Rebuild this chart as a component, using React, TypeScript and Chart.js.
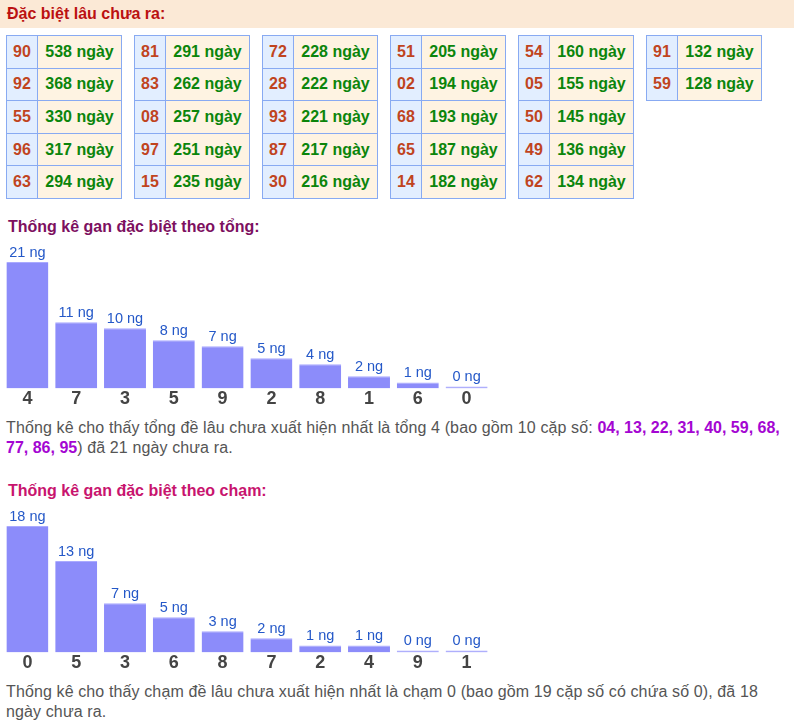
import React, { useEffect, useRef } from "react";
import { Chart, registerables } from "chart.js";

Chart.register(...registerables);

// Table data: five columns of 5 (and one column of 2)
const tablePairs: string[][] = [
  ["90", "92", "55", "96", "63"],
  ["81", "83", "08", "97", "15"],
  ["72", "28", "93", "87", "30"],
  ["51", "02", "68", "65", "14"],
  ["54", "05", "50", "49", "62"],
  ["91", "59"],
];
const tableDays: number[][] = [
  [538, 368, 330, 317, 294],
  [291, 262, 257, 251, 235],
  [228, 222, 221, 217, 216],
  [205, 194, 193, 187, 182],
  [160, 155, 145, 136, 134],
  [132, 128],
];

const tongLabels = ["4", "7", "3", "5", "9", "2", "8", "1", "6", "0"];
const tongValues = [21, 11, 10, 8, 7, 5, 4, 2, 1, 0];

const chamLabels = ["0", "5", "3", "6", "8", "7", "2", "4", "9", "1"];
const chamValues = [18, 13, 7, 5, 3, 2, 1, 1, 0, 0];

const tongPairs = ["04", "13", "22", "31", "40", "59", "68", "77", "86", "95"];

const FONT = "Arial, 'Liberation Sans', sans-serif";

const valueLabelPlugin = {
  id: "valueLabels",
  afterDatasetsDraw(chart: any) {
    const ctx = chart.ctx;
    const meta = chart.getDatasetMeta(0);
    const data = chart.data.datasets[0].data;
    ctx.save();
    ctx.font = `14.5px ${FONT}`;
    ctx.fillStyle = "#2458c8";
    ctx.textAlign = "center";
    ctx.textBaseline = "bottom";
    meta.data.forEach((bar: any, i: number) => {
      ctx.fillText(`${data[i]} ng`, bar.x, bar.y - 2);
    });
    ctx.restore();
  },
};

function BarChart({ labels, values, top }: { labels: string[]; values: number[]; top: number }) {
  const ref = useRef<HTMLCanvasElement | null>(null);
  useEffect(() => {
    if (!ref.current) return;
    const chart = new Chart(ref.current, {
      type: "bar",
      data: {
        labels,
        datasets: [
          {
            data: values,
            backgroundColor: "#8c8cfa",
            borderColor: "#aaaaff",
            borderWidth: { top: 1, left: 0, right: 0, bottom: 0 },
            borderSkipped: false,
            minBarLength: 2,
            categoryPercentage: 0.86,
            barPercentage: 1,
          },
        ],
      },
      options: {
        animation: false,
        responsive: false,
        maintainAspectRatio: false,
        layout: { padding: { top: 26, left: 0, right: 0, bottom: 0 } },
        plugins: { legend: { display: false }, tooltip: { enabled: false } },
        scales: {
          x: {
            grid: { display: false, drawTicks: false },
            border: { display: false },
            ticks: {
              padding: 0,
              color: "#444",
              font: { family: FONT, size: 18, weight: "bold" },
            },
          },
          y: {
            display: false,
            min: 0,
            max: Math.max(...values),
          },
        },
      },
      plugins: [valueLabelPlugin],
    });
    return () => chart.destroy();
  }, []);
  return (
    <canvas
      ref={ref}
      width={488}
      height={174}
      style={{ position: "absolute", left: 3, top, width: 488, height: 174 }}
    />
  );
}

export default function App() {
  useEffect(() => {
    document.body.style.margin = "0";
  }, []);

  const tables = tablePairs.map((pairs, t) => (
    <table
      key={t}
      style={{
        position: "absolute",
        left: 6 + 128 * t,
        top: 35,
        borderCollapse: "collapse",
        fontFamily: FONT,
        fontSize: 16,
        fontWeight: "bold",
      }}
    >
      <tbody>
        {pairs.map((p, r) => (
          <tr key={r} style={{ height: 32.6 }}>
            <td
              style={{
                width: 31,
                padding: 0,
                textAlign: "center",
                background: "#e2eeff",
                color: "#c0441e",
                border: "1px solid #88aaf2",
                boxSizing: "border-box",
              }}
            >
              {p}
            </td>
            <td
              style={{
                width: 84,
                padding: 0,
                textAlign: "center",
                background: "#fef3e2",
                color: "#0b850b",
                border: "1px solid #88aaf2",
                boxSizing: "border-box",
              }}
            >
              {tableDays[t][r]} ngày
            </td>
          </tr>
        ))}
      </tbody>
    </table>
  ));

  return (
    <div style={{ position: "relative", width: 794, height: 728, fontFamily: FONT }}>
      <div
        style={{
          position: "absolute",
          left: 0,
          top: 0,
          width: 794,
          height: 28,
          background: "#fbe9d6",
        }}
      />
      <div
        style={{
          position: "absolute",
          left: 7,
          top: 4,
          fontSize: 16,
          fontWeight: "bold",
          color: "#bb1111",
          lineHeight: "20px",
        }}
      >
        Đặc biệt lâu chưa ra:
      </div>
      {tables}

      <div
        style={{
          position: "absolute",
          left: 8,
          top: 217,
          fontSize: 16,
          fontWeight: "bold",
          color: "#7d105f",
          lineHeight: "20px",
        }}
      >
        Thống kê gan đặc biệt theo tổng:
      </div>
      <BarChart labels={tongLabels} values={tongValues} top={236} />
      <div
        style={{
          position: "absolute",
          left: 6,
          top: 418,
          width: 786,
          fontSize: 16,
          color: "#555",
          lineHeight: "20px",
          letterSpacing: "0.12px",
        }}
      >
        Thống kê cho thấy tổng đề lâu chưa xuất hiện nhất là tổng {tongLabels[0]} (bao gồm 10 cặp số:{" "}
        <b style={{ color: "#a406d2", letterSpacing: 0 }}>{tongPairs.join(", ")}</b>) đã {tongValues[0]} ngày chưa ra.
      </div>

      <div
        style={{
          position: "absolute",
          left: 8,
          top: 481,
          fontSize: 16,
          fontWeight: "bold",
          color: "#c8146e",
          lineHeight: "20px",
        }}
      >
        Thống kê gan đặc biệt theo chạm:
      </div>
      <BarChart labels={chamLabels} values={chamValues} top={500} />
      <div
        style={{
          position: "absolute",
          left: 6,
          top: 682,
          width: 782,
          fontSize: 16,
          color: "#555",
          lineHeight: "20px",
          letterSpacing: "0.12px",
        }}
      >
        Thống kê cho thấy chạm đề lâu chưa xuất hiện nhất là chạm {chamLabels[0]} (bao gồm 19 cặp số có chứa số 0), đã{" "}
        {chamValues[0]} ngày chưa ra.
      </div>
    </div>
  );
}
